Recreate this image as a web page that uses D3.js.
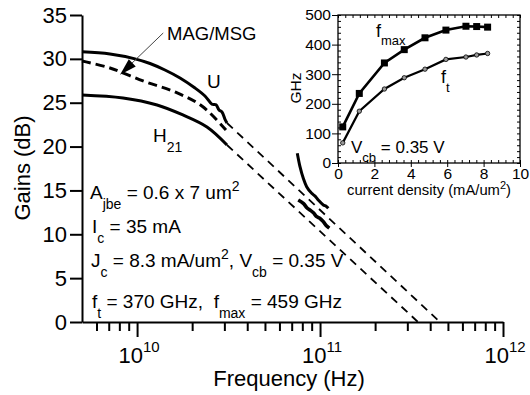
<!DOCTYPE html>
<html>
<head>
<meta charset="utf-8">
<script src="https://cdn.jsdelivr.net/npm/d3@7"></script>
<style>
  body { margin: 0; background: #fff; }
  svg { font-family: "Liberation Sans", Arial, sans-serif; }
  text { white-space: pre; }
</style>
</head>
<body>
<div id="myDiv"></div>
<script>
// ---- main chart data (frequency in Hz, gain in dB) ----
const freqU = [5e9, 7.11e9, 9.74e9, 1.177e10, 1.42e10, 1.717e10, 2.073e10, 2.35e10, 2.567e10, 2.70e10, 2.805e10, 2.91e10, 3.02e10, 3.10e10];
const gainU = [30.8, 30.55, 30.0, 29.47, 28.73, 27.82, 26.68, 25.77, 24.83, 24.77, 24.17, 23.94, 23.14, 22.69];

const freqMag = [5e9, 7.11e9, 1.078e10, 1.61e10, 2.26e10, 3.06e10];
const gainMag = [29.75, 28.96, 27.48, 26.23, 24.63, 21.89];

const freqH21 = [5e9, 8.38e9, 1.286e10, 1.78e10, 2.41e10, 3.10e10];
const gainH21 = [25.88, 25.54, 24.74, 23.6, 22.23, 20.18];

// high frequency measured data
const freqHiA = [7.51e10, 7.77e10, 8.10e10, 8.45e10, 9.0e10, 9.4e10, 9.78e10, 1.042e11, 1.08e11, 1.11e11];
const gainHiA = [19.24, 17.71, 16.38, 15.43, 14.67, 14.35, 13.91, 13.34, 13.2, 12.96];
const freqHiB = [7.6e10, 8.10e10, 8.5e10, 8.81e10, 9.2e10, 9.59e10, 1.0e11, 1.042e11, 1.08e11, 1.124e11];
const gainHiB = [13.91, 13.53, 13.0, 12.77, 12.45, 12.01, 11.8, 11.44, 11.0, 10.7];

// -20 dB/dec extrapolation lines
const freqExtU = [3.10e10, 4.52e11];
const gainExtU = [22.69, 0];
const freqExtH = [3.10e10, 3.43e11];
const gainExtH = [20.18, 0];

const yTicks = [0, 5, 10, 15, 20, 25, 30, 35];
const xMajor = [1e10, 1e11, 1e12];
const xExp = ["10", "11", "12"];

// ---- inset data (current density mA/um2, GHz) ----
const jc = [0.26, 1.17, 2.55, 3.64, 4.78, 5.93, 7.03, 7.62, 8.22];
const fmax = [122, 235, 338, 383, 423, 449, 462, 461, 459];
const ft = [68, 175, 250, 288, 317, 350, 358, 365, 370];

let svg = d3.select("#myDiv").append("svg")
  .attr("width", 530)
  .attr("height", 395);

svg.append("rect").attr("width", 530).attr("height", 395).attr("fill", "#fff");

// scales
let x = d3.scaleLog().domain([5e9, 1e12]).range([82, 503]);
let y = d3.scaleLinear().domain([0, 35]).range([322, 15]);

let line = d3.line()
  .x(function (d) { return x(d[0]); })
  .y(function (d) { return y(d[1]); })
  .curve(d3.curveCatmullRom);

// y axis
let yAxis = svg.append("g")
  .attr("transform", "translate(82,0)")
  .call(d3.axisLeft(y).tickValues(yTicks).tickSize(12).tickSizeOuter(0).tickPadding(3));
yAxis.selectAll("line, path").attr("stroke", "#000").attr("stroke-width", 2);
yAxis.selectAll("text").attr("font-size", "22px").attr("fill", "#000").attr("font-family", "Liberation Sans, Arial, sans-serif");

// x axis: minor ticks
let minor = [];
[1e9, 1e10, 1e11].forEach(function (dec) {
  for (let k = 2; k <= 9; k++) {
    let v = dec * k;
    if (v > 5e9 && v < 1e12) minor.push(v);
  }
});
let xMinor = svg.append("g")
  .attr("transform", "translate(0,322)")
  .call(d3.axisBottom(x).tickValues(minor).tickSize(9).tickSizeOuter(0).tickFormat(""));
xMinor.selectAll("line, path").attr("stroke", "#000").attr("stroke-width", 2);

let xMaj = svg.append("g")
  .attr("transform", "translate(0,322)")
  .call(d3.axisBottom(x).tickValues(xMajor).tickSize(15).tickSizeOuter(0).tickFormat(""));
xMaj.selectAll("line").attr("stroke", "#000").attr("stroke-width", 2);
xMaj.select("path").remove();

// x tick labels with superscripts
let xl = svg.selectAll(".xlab").data(xMajor).enter().append("text")
  .attr("class", "xlab")
  .attr("x", function (d) { return x(d) + 2; })
  .attr("y", 363)
  .attr("text-anchor", "middle")
  .attr("font-size", "22px");
xl.append("tspan").text("10");
xl.append("tspan").attr("dy", -11).attr("font-size", "15px")
  .text(function (d, i) { return xExp[i]; });

// axis titles
svg.append("text")
  .attr("x", 289).attr("y", 386)
  .attr("text-anchor", "middle")
  .attr("font-size", "22px")
  .text("Frequency (Hz)");

svg.append("text")
  .attr("transform", "translate(30,168) rotate(-90)")
  .attr("text-anchor", "middle")
  .attr("font-size", "22px")
  .text("Gains (dB)");

// curves
function drawCurve(fs, gs, width, dash) {
  svg.append("path")
    .datum(d3.zip(fs, gs))
    .attr("d", line)
    .attr("fill", "none")
    .attr("stroke", "#000")
    .attr("stroke-width", width)
    .attr("stroke-linejoin", "round")
    .attr("stroke-dasharray", dash);
}
drawCurve(freqExtU, gainExtU, 1.8, "8,6");
drawCurve(freqExtH, gainExtH, 1.8, "8,6");
drawCurve(freqU, gainU, 3, null);
drawCurve(freqMag, gainMag, 3, "9,5");
drawCurve(freqH21, gainH21, 3, null);
drawCurve(freqHiA, gainHiA, 3, null);
drawCurve(freqHiB, gainHiB, 3.6, null);

// MAG/MSG annotation arrow
let tail = [x(1.39e10), y(32.95)];
let tip = [x(8.07e9), y(28.2)];
let dx = tail[0] - tip[0], dy = tail[1] - tip[1];
let len = Math.sqrt(dx * dx + dy * dy);
let ux = dx / len, uy = dy / len;
svg.append("line")
  .attr("x1", tail[0]).attr("y1", tail[1])
  .attr("x2", tip[0] + ux * 10).attr("y2", tip[1] + uy * 10)
  .attr("stroke", "#444").attr("stroke-width", 1);
let bx = tip[0] + ux * 17, by = tip[1] + uy * 17;
svg.append("polygon")
  .attr("points", [
    [tip[0], tip[1]],
    [bx - uy * 5, by + ux * 5],
    [bx + uy * 5, by - ux * 5]
  ].join(" "))
  .attr("fill", "#000");

svg.append("text").attr("x", 167).attr("y", 40).attr("font-size", "18.5px").text("MAG/MSG");
svg.append("text").attr("x", 207).attr("y", 88).attr("font-size", "19px").text("U");
let h = svg.append("text").attr("x", 153).attr("y", 142).attr("font-size", "19px");
h.append("tspan").text("H");
h.append("tspan").attr("dy", 10).attr("font-size", "14px").text("21");

// parameter text block
function subText(xPos, yPos, parts) {
  let t = svg.append("text").attr("x", xPos).attr("y", yPos).attr("font-size", "19px");
  let level = 0;
  parts.forEach(function (p) {
    let shift = p[1] === "sub" ? 10 : (p[1] === "sup" ? -8 : 0);
    t.append("tspan")
      .attr("dy", shift - level)
      .attr("font-size", p[1] ? "14px" : "19px")
      .text(p[0]);
    level = shift;
  });
}
subText(90, 199, [["A"], ["jbe", "sub"], [" = 0.6 x 7 um"], ["2", "sup"]]);
subText(92, 233, [["I"], ["c", "sub"], [" = 35 mA"]]);
subText(91, 267, [["J"], ["c", "sub"], [" = 8.3 mA/um"], ["2", "sup"], [", V"], ["cb", "sub"], [" = 0.35 V"]]);
subText(92, 308, [["f"], ["t", "sub"], [" = 370 GHz,  f"], ["max", "sub"], [" = 459 GHz"]]);

// ---- inset ----
let ix = d3.scaleLinear().domain([0, 10]).range([338, 520]);
let iy = d3.scaleLinear().domain([0, 500]).range([163, 15]);
let inset = svg.append("g");

inset.append("rect")
  .attr("x", 338).attr("y", 15).attr("width", 182).attr("height", 148)
  .attr("fill", "#fff").attr("stroke", "#000").attr("stroke-width", 1.3);

let xMinorIn = d3.range(0, 26).map(function (i) { return i * 0.4; });
let yMinorIn = d3.range(0, 26).map(function (i) { return i * 20; });

function styleAxis(g) {
  g.select("path").remove();
  g.selectAll("line").attr("stroke", "#000").attr("stroke-width", 1);
  g.selectAll("text").attr("font-size", "15.5px").attr("fill", "#000")
    .attr("font-family", "Liberation Sans, Arial, sans-serif");
}
// inward minor ticks on all four sides
inset.append("g").attr("transform", "translate(0,163)")
  .call(d3.axisBottom(ix).tickValues(xMinorIn).tickSize(-3).tickFormat("")).call(styleAxis);
inset.append("g").attr("transform", "translate(0,15)")
  .call(d3.axisTop(ix).tickValues(xMinorIn).tickSize(-3).tickFormat("")).call(styleAxis);
inset.append("g").attr("transform", "translate(338,0)")
  .call(d3.axisLeft(iy).tickValues(yMinorIn).tickSize(-3).tickFormat("")).call(styleAxis);
inset.append("g").attr("transform", "translate(520,0)")
  .call(d3.axisRight(iy).tickValues(yMinorIn).tickSize(-3).tickFormat("")).call(styleAxis);
// major ticks with labels
inset.append("g").attr("transform", "translate(0,163)")
  .call(d3.axisBottom(ix).tickValues([0, 2, 4, 6, 8, 10]).tickSize(4).tickPadding(1)).call(styleAxis);
inset.append("g").attr("transform", "translate(338,0)")
  .call(d3.axisLeft(iy).tickValues([0, 100, 200, 300, 400, 500]).tickSize(6).tickPadding(1)).call(styleAxis);

inset.append("text")
  .attr("transform", "translate(301,88) rotate(-90)")
  .attr("text-anchor", "middle").attr("font-size", "15.5px").text("GHz");

let cd = inset.append("text").attr("x", 429).attr("y", 195)
  .attr("text-anchor", "middle").attr("font-size", "14.8px");
cd.append("tspan").text("current density (mA/um");
cd.append("tspan").attr("dy", -6).attr("font-size", "11px").text("2");
cd.append("tspan").attr("dy", 6).text(")");

let iline = d3.line()
  .x(function (d) { return ix(d[0]); })
  .y(function (d) { return iy(d[1]); });

inset.append("path").datum(d3.zip(jc, fmax)).attr("d", iline)
  .attr("fill", "none").attr("stroke", "#000").attr("stroke-width", 2.6);
inset.append("path").datum(d3.zip(jc, ft)).attr("d", iline)
  .attr("fill", "none").attr("stroke", "#000").attr("stroke-width", 2.2);

inset.selectAll(".sq").data(d3.zip(jc, fmax)).enter().append("rect")
  .attr("x", function (d) { return ix(d[0]) - 3.5; })
  .attr("y", function (d) { return iy(d[1]) - 3.5; })
  .attr("width", 7).attr("height", 7).attr("fill", "#000");
inset.selectAll(".dot").data(d3.zip(jc, ft)).enter().append("circle")
  .attr("cx", function (d) { return ix(d[0]); })
  .attr("cy", function (d) { return iy(d[1]); })
  .attr("r", 2.2).attr("fill", "#999").attr("stroke", "#000").attr("stroke-width", 0.8);

let fm = inset.append("text").attr("x", 376).attr("y", 37).attr("font-size", "18px");
fm.append("tspan").text("f");
fm.append("tspan").attr("dy", 8).attr("font-size", "13px").text("max");
let fT = inset.append("text").attr("x", 441).attr("y", 83).attr("font-size", "18px");
fT.append("tspan").text("f");
fT.append("tspan").attr("dy", 9).attr("font-size", "13px").text("t");
let vc = inset.append("text").attr("x", 351).attr("y", 153).attr("font-size", "17px");
vc.append("tspan").text("V");
vc.append("tspan").attr("dy", 9).attr("font-size", "13px").text("cb");
vc.append("tspan").attr("dy", -9).text(" = 0.35 V");
</script>
</body>
</html>
